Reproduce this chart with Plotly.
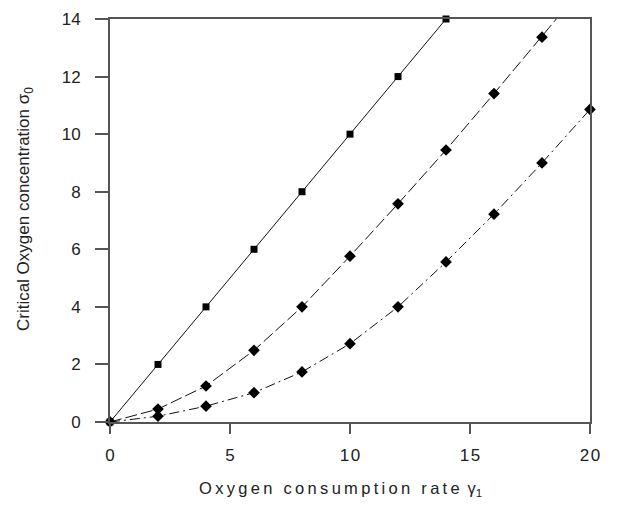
import plotly.graph_objects as go

x_sq = [0, 2, 4, 6, 8, 10, 12, 14]
y_sq = [0, 2, 4, 6, 8, 10, 12, 14]

x_d1 = [0, 2, 4, 6, 8, 10, 12, 14, 16, 18, 20]
y_d1 = [0, 0.45, 1.25, 2.49, 4.0, 5.76, 7.58, 9.45, 11.41, 13.37, 15.4]

x_d2 = [0, 2, 4, 6, 8, 10, 12, 14, 16, 18, 20]
y_d2 = [0, 0.2, 0.55, 1.02, 1.74, 2.72, 4.0, 5.56, 7.22, 9.0, 10.86]

x_ticks = [0, 5, 10, 15, 20]
y_ticks = [0, 2, 4, 6, 8, 10, 12, 14]

x_title = "Oxygen consumption rate"
y_title = "Critical Oxygen concentration"

FONT = "Liberation Sans, Arial, sans-serif"
TXT = "#222222"
THIN = "\u2009"
HAIR = "\u200a"


def spaced(s, sep):
    return sep.join(list(s))


fig = go.Figure()
fig.add_trace(go.Scatter(x=x_sq, y=y_sq, mode="lines+markers",
                         line=dict(color="#111111", width=1),
                         marker=dict(symbol="square", size=7, color="black"),
                         cliponaxis=False))
fig.add_trace(go.Scatter(x=x_d1, y=y_d1, mode="lines+markers",
                         line=dict(color="#111111", width=1, dash="12px,4px"),
                         marker=dict(symbol="diamond", size=9, color="black")))
fig.add_trace(go.Scatter(x=x_d2, y=y_d2, mode="lines+markers",
                         line=dict(color="#111111", width=1, dash="10px,4px,2px,4px"),
                         marker=dict(symbol="diamond", size=9, color="black"),
                         cliponaxis=False))

axis_common = dict(showgrid=False, zeroline=False, showline=True,
                   linecolor="#555555", linewidth=2, mirror=True,
                   ticks="outside", tickwidth=1.5, tickcolor="#555555",
                   automargin=False)

fig.update_xaxes(range=[0, 20], tickvals=x_ticks,
                 ticktext=[spaced(str(v), HAIR) for v in x_ticks],
                 ticklen=10, ticklabelstandoff=7,
                 tickfont=dict(family=FONT, size=17, color=TXT),
                 **axis_common)
fig.update_yaxes(range=[0, 14], tickvals=y_ticks,
                 ticktext=[str(v) for v in y_ticks],
                 ticklen=13, ticklabelstandoff=11,
                 tickfont=dict(family=FONT, size=17, color=TXT),
                 **axis_common)

fig.add_annotation(text=spaced(x_title, THIN) + THIN + " γ<sub>1</sub>",
                   xref="paper", yref="paper", x=0.481, y=-0.166,
                   xanchor="center", yanchor="middle", showarrow=False,
                   font=dict(family=FONT, size=16.5, color=TXT))
fig.add_annotation(text=y_title + " σ<sub>0</sub>",
                   xref="paper", yref="paper", x=-0.177, y=0.5285,
                   xanchor="center", yanchor="middle", showarrow=False,
                   textangle=-90,
                   font=dict(family=FONT, size=17, color=TXT))

fig.update_layout(width=609, height=499, showlegend=False,
                  paper_bgcolor="white", plot_bgcolor="white",
                  margin=dict(l=102, r=27, t=11, b=85))

fig.write_html("out.html")
